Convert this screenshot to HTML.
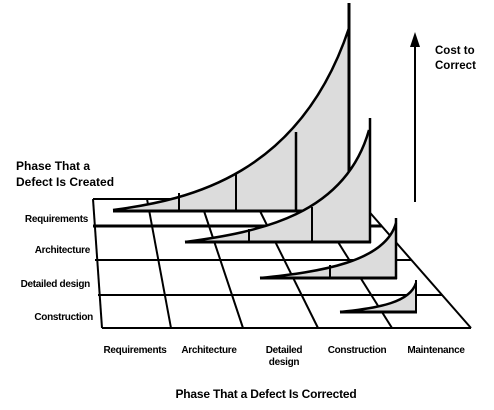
<!DOCTYPE html>
<html><head><meta charset="utf-8"><style>
html,body{margin:0;padding:0;background:#fff;}
svg{display:block;}
text{font-family:"Liberation Sans",Arial,sans-serif;font-weight:bold;fill:#000;}
</style></head><body>
<svg width="494" height="410" viewBox="0 0 494 410" xmlns="http://www.w3.org/2000/svg">
<!-- grid -->
<g stroke="#000" fill="none" stroke-width="2">
<line x1="93" y1="199" x2="358" y2="199"/>
<line x1="93" y1="226" x2="382" y2="226" stroke-width="3"/>
<line x1="95" y1="260" x2="411" y2="260"/>
<line x1="98" y1="295" x2="442" y2="295"/>
<line x1="102" y1="328" x2="471" y2="328"/>
<line x1="93" y1="199" x2="102" y2="328"/>
<line x1="358" y1="199" x2="471" y2="328"/>
<line x1="147" y1="199" x2="171" y2="328"/>
<line x1="200" y1="199" x2="243" y2="328"/>
<line x1="254" y1="199" x2="318" y2="328"/>
<line x1="311" y1="199" x2="392" y2="328"/>
</g>
<!-- curve 1 -->
<path d="M113,210 C190,200 300,175 349,28 L349,211 Z" fill="#dcdcdc"/>
<g stroke="#000" fill="none">
<path d="M113,210 C190,200 300,175 349,28" stroke-width="2.5"/>
<line x1="113" y1="211" x2="349" y2="211" stroke-width="3"/>
<line x1="349" y1="3" x2="349" y2="211" stroke-width="3"/>
<line x1="179" y1="193" x2="179" y2="211" stroke-width="2"/>
<line x1="236" y1="174" x2="236" y2="211" stroke-width="2"/>
<line x1="296" y1="132" x2="296" y2="211" stroke-width="2.5"/>
</g>
<!-- curve 2 -->
<path d="M185,242 C260,232 345,215 369,130 L370,242 Z" fill="#dcdcdc"/>
<g stroke="#000" fill="none">
<path d="M185,242 C260,232 345,215 369,130" stroke-width="2.5"/>
<line x1="185" y1="242" x2="371" y2="242" stroke-width="3"/>
<line x1="370" y1="118" x2="370" y2="243" stroke-width="2.5"/>
<line x1="249" y1="229" x2="249" y2="242" stroke-width="2"/>
<line x1="312" y1="207" x2="312" y2="242" stroke-width="2"/>
</g>
<!-- curve 3 -->
<path d="M260,278 C320,272 385,262 396,223 L396,278 Z" fill="#dcdcdc"/>
<g stroke="#000" fill="none">
<path d="M260,278 C320,272 385,262 396,223" stroke-width="2.5"/>
<line x1="260" y1="278" x2="397" y2="278" stroke-width="3"/>
<line x1="396" y1="218" x2="396" y2="279" stroke-width="2.5"/>
<line x1="330" y1="265" x2="330" y2="278" stroke-width="2"/>
</g>
<!-- curve 4 -->
<path d="M340,312 C380,308 410,302 416,283 L416,312 Z" fill="#dcdcdc"/>
<g stroke="#000" fill="none">
<path d="M340,312 C380,308 410,302 416,283" stroke-width="2.5"/>
<line x1="340" y1="312" x2="417" y2="312" stroke-width="3"/>
<line x1="416" y1="280" x2="416" y2="313" stroke-width="2"/>
</g>
<!-- arrow -->
<line x1="415" y1="45" x2="415" y2="202" stroke="#000" stroke-width="2"/>
<polygon points="415,32 410,47 420,47" fill="#000"/>
<text x="435" y="54" font-size="11.5">Cost to</text>
<text x="435" y="69" font-size="11.5">Correct</text>
<text x="16" y="170" font-size="12">Phase That a</text>
<text x="16" y="186" font-size="12">Defect Is Created</text>
<g font-size="10" text-anchor="end" letter-spacing="-0.3">
<text x="88" y="222">Requirements</text>
<text x="90" y="253">Architecture</text>
<text x="90" y="287">Detailed design</text>
<text x="93" y="320">Construction</text>
</g>
<g font-size="10" text-anchor="middle" letter-spacing="-0.3">
<text x="135" y="353">Requirements</text>
<text x="209" y="353">Architecture</text>
<text x="284" y="353">Detailed</text>
<text x="284" y="365">design</text>
<text x="357" y="353">Construction</text>
<text x="436" y="353">Maintenance</text>
</g>
<text x="266" y="398" font-size="12" text-anchor="middle" letter-spacing="-0.2">Phase That a Defect Is Corrected</text>
</svg>
</body></html>
